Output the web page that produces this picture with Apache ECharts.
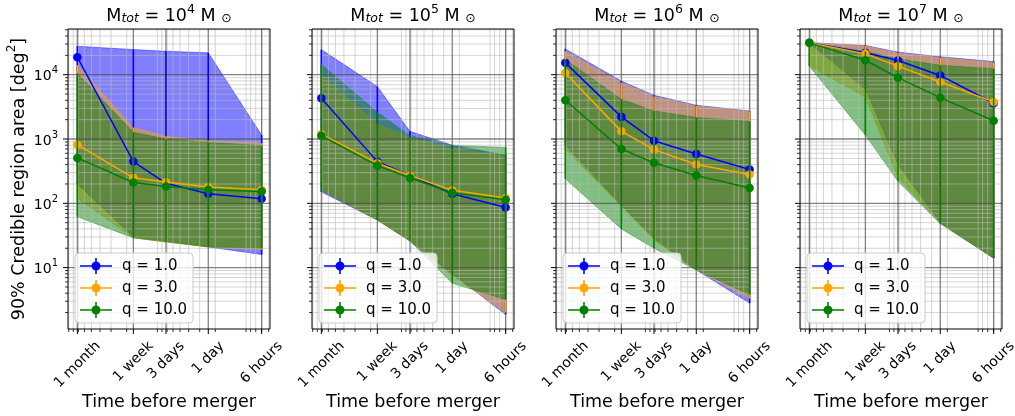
<!DOCTYPE html>
<html>
<head>
<meta charset="utf-8">
<script src="https://cdn.jsdelivr.net/npm/echarts@6/dist/echarts.min.js"></script>
<style>
  html, body { margin: 0; padding: 0; background: #fff; }
  #main { width: 1015px; height: 416px; }
</style>
</head>
<body>
<div id="main"></div>
<script>
// time before merger, in hours
var times = [720, 168, 72, 24, 6];
var timeLabels = ['1 month', '1 week', '3 days', '1 day', '6 hours'];
var massExp = [4, 5, 6, 7];
var qNames = ['q = 1.0', 'q = 3.0', 'q = 10.0'];
var yTicks = [10, 100, 1000, 10000];

// 90% area [deg2]; rows are q = 1, 3, 10
var med4 = [[18700, 446, 205, 141, 118], [817, 249, 214, 179, 163], [508, 211, 183, 163, 153]];
var lo4 = [[200, 30, 26, 21, 16], [120, 29, 25, 21, 19], [62, 29, 25, 21, 20]];
var hi4 = [[27700, 24600, 23200, 21900, 1150], [14100, 1510, 1100, 940, 860], [10500, 1270, 1000, 890, 790]];

var med5 = [[4300, 445, 271, 141, 86], [1190, 421, 271, 159, 121], [1125, 386, 247, 146, 114]];
var lo5 = [[150, 55, 26, 8, 1.86], [160, 55, 26, 7.5, 2.0], [160, 55, 26, 5.7, 3.2]];
var hi5 = [[24600, 6530, 1315, 800, 560], [10000, 1700, 1050, 700, 550], [14400, 2600, 1125, 800, 740]];

var med6 = [[15300, 2210, 942, 586, 335], [10600, 1315, 684, 401, 281], [4010, 700, 426, 271, 173]];
var lo6 = [[800, 93, 28.5, 9.2, 2.8], [700, 90, 27, 9.2, 3.3], [240, 40, 20, 9.2, 3.8]];
var hi6 = [[25200, 7960, 4790, 3350, 2730], [23200, 7510, 4570, 3270, 2680], [17200, 4150, 2735, 2160, 1875]];

var med7 = [[31300, 21900, 16600, 9750, 3600], [31300, 21100, 13600, 7690, 3780], [31300, 16800, 8990, 4400, 1920]];
var lo7 = [[31000, 6000, 400, 50, 14], [13600, 4500, 250, 50, 14], [13600, 1150, 220, 48, 14]];
var hi7 = [[31600, 28500, 22500, 19000, 16000], [31400, 28000, 22000, 18500, 15500], [31300, 23000, 17700, 14000, 12400]];

var panels = [
  { med: med4, lo: lo4, hi: hi4 },
  { med: med5, lo: lo5, hi: hi5 },
  { med: med6, lo: lo6, hi: hi6 },
  { med: med7, lo: lo7, hi: hi7 }
];

var colors = ['#0000ff', '#ffa500', '#008000'];
var fills = ['rgba(0,0,255,0.5)', 'rgba(255,165,0,0.5)', 'rgba(0,128,0,0.5)'];
var FONT = 'DejaVu Sans';
var TICK_FS = 14;

var xMin = 4.83, xMax = 918, yMin = 1.11, yMax = 51400;
var gridLeft = 68, gridStep = 244, gridTop = 29, gridW = 202, gridH = 302;

var yMinor = [], xMinor = [];
for (var e = 0; e <= 4; e++) {
  for (var m = 2; m <= 9; m++) {
    var v = m * Math.pow(10, e);
    if (v > yMin && v < yMax) yMinor.push(v);
    if (e <= 2 && v > xMin && v < xMax) xMinor.push(v);
  }
}

var mctx = document.createElement('canvas').getContext('2d');
mctx.font = TICK_FS + 'px "' + FONT + '"';

var iconPath = 'path://M0,7.2H32V8.8H0Z M15.2,0H16.8V16H15.2Z M11.5,8A4.5,4.5 0 1 1 20.5,8A4.5,4.5 0 1 1 11.5,8Z';

function bandRender(lo, hi, fill) {
  return function (params, api) {
    if (params.dataIndex !== 0) return null;
    var pts = [];
    for (var k = 0; k < times.length; k++) pts.push(api.coord([times[k], hi[k]]));
    for (var k2 = times.length - 1; k2 >= 0; k2--) pts.push(api.coord([times[k2], lo[k2]]));
    return { type: 'polygon', shape: { points: pts }, style: { fill: fill, stroke: fill, lineWidth: 0.8 } };
  };
}

function errRender(color) {
  return function (params, api) {
    var a = api.coord([api.value(0), api.value(1)]);
    var b = api.coord([api.value(0), api.value(2)]);
    return { type: 'line', shape: { x1: a[0], y1: a[1], x2: b[0], y2: b[1] }, style: { stroke: color, lineWidth: 1.5 } };
  };
}

function decorRender(params, api) {
  if (params.dataIndex !== 0) return null;
  var cs = params.coordSys;
  var x0 = cs.x, y0 = cs.y, x1 = cs.x + cs.width, y1 = cs.y + cs.height;
  var kids = [];
  function seg(ax, ay, bx, by, stroke, w) {
    kids.push({ type: 'line', shape: { x1: ax, y1: ay, x2: bx, y2: by }, style: { stroke: stroke, lineWidth: w } });
  }
  var minorC = 'rgba(185,185,185,0.6)', majorC = 'rgba(80,80,80,0.7)';
  yMinor.forEach(function (v) {
    var y = api.coord([times[0], v])[1];
    seg(x0, y, x1, y, minorC, 1);
    seg(x0 - 3, y, x0, y, '#000', 0.8);
  });
  xMinor.forEach(function (v) {
    var x = api.coord([v, yTicks[0]])[0];
    seg(x, y0, x, y1, minorC, 1);
    seg(x, y1, x, y1 + 3, '#000', 0.8);
  });
  yTicks.forEach(function (v) {
    var y = api.coord([times[0], v])[1];
    seg(x0, y, x1, y, majorC, 1.3);
    seg(x0 - 5, y, x0, y, '#000', 1);
  });
  times.forEach(function (t, k) {
    var x = api.coord([t, yTicks[0]])[0];
    seg(x, y0, x, y1, majorC, 1.3);
    seg(x, y1, x, y1 + 5, '#000', 1);
    var w = mctx.measureText(timeLabels[k]).width;
    kids.push({
      type: 'text', x: x, y: y1 + 10 + (w + TICK_FS) * 0.3536, rotation: Math.PI / 4,
      style: { text: timeLabels[k], fontSize: TICK_FS, fontFamily: FONT, fill: '#000', align: 'center', verticalAlign: 'middle' }
    });
  });
  kids.push({ type: 'rect', shape: { x: x0, y: y0, width: cs.width, height: cs.height }, style: { fill: null, stroke: '#000', lineWidth: 1 } });
  return { type: 'group', children: kids };
}

var grids = [], xAxes = [], yAxes = [], titles = [], legends = [], series = [];

panels.forEach(function (p, i) {
  var left = gridLeft + gridStep * i;
  grids.push({ left: left, top: gridTop, width: gridW, height: gridH, show: false });
  xAxes.push({
    type: 'log', gridIndex: i, inverse: true, min: xMin, max: xMax,
    axisLine: { show: false }, axisTick: { show: false }, splitLine: { show: false },
    axisLabel: { show: false }, minorTick: { show: false },
    name: 'Time before merger', nameLocation: 'middle', nameGap: 64,
    nameTextStyle: { fontSize: 17.5, fontFamily: FONT, color: '#000' }
  });
  yAxes.push({
    type: 'log', gridIndex: i, min: yMin, max: yMax,
    axisLine: { show: false }, axisTick: { show: false }, splitLine: { show: false },
    axisLabel: {
      show: i === 0, customValues: yTicks, margin: 10,
      formatter: function (v) { return '{b|10}{s|' + Math.round(Math.log10(v)) + '}'; },
      rich: {
        b: { fontSize: TICK_FS, fontFamily: FONT, color: '#000', lineHeight: 18, verticalAlign: 'bottom' },
        s: { fontSize: 10, fontFamily: FONT, color: '#000', lineHeight: 11, verticalAlign: 'top' }
      }
    },
    name: i === 0 ? '{n|90% Credible region area [deg}{s|2}{n|]}' : '',
    nameLocation: 'middle', nameGap: 40,
    nameTextStyle: {
      fontSize: 17.5, fontFamily: FONT, color: '#000',
      rich: {
        n: { fontSize: 17.5, fontFamily: FONT, color: '#000', lineHeight: 22, verticalAlign: 'bottom' },
        s: { fontSize: 12, fontFamily: FONT, color: '#000', lineHeight: 13, verticalAlign: 'top' }
      }
    }
  });
  titles.push({
    text: '{n|M}{sub|tot}{n| = 10}{sup|' + massExp[i] + '}{n| M }{od|\u2299}',
    left: left + gridW / 2, top: 3, textAlign: 'center', padding: 0,
    textStyle: {
      fontSize: 17.5, fontFamily: FONT, color: '#000', fontWeight: 'normal',
      rich: {
        n: { fontSize: 17.5, fontFamily: FONT, color: '#000', lineHeight: 22, verticalAlign: 'bottom' },
        sub: { fontSize: 12.5, fontStyle: 'italic', fontFamily: FONT, color: '#000', lineHeight: 9, verticalAlign: 'bottom' },
        sup: { fontSize: 12.5, fontFamily: FONT, color: '#000', lineHeight: 12, verticalAlign: 'top' },
        od: { fontSize: 12.5, fontFamily: FONT, color: '#000', lineHeight: 9, verticalAlign: 'bottom' }
      }
    }
  });
  legends.push({
    orient: 'vertical', left: left + 7, top: 253, z: 20,
    data: qNames, icon: iconPath, itemWidth: 32, itemHeight: 16, itemGap: 6,
    padding: [5, 6, 5, 5], selectedMode: false,
    backgroundColor: 'rgba(255,255,255,0.8)', borderColor: '#cccccc', borderWidth: 1, borderRadius: 4,
    itemStyle: { borderWidth: 0 },
    formatter: function (name) { return '{t|' + name + '}'; },
    textStyle: {
      fontSize: 15, fontFamily: FONT, color: '#000',
      rich: { t: { fontSize: 15, fontFamily: FONT, color: '#000', padding: [0, 0, 0, 5] } }
    }
  });

  p.med.forEach(function (row, j) {
    series.push({
      type: 'custom', name: 'band' + i + j, xAxisIndex: i, yAxisIndex: i, z: 1 + j * 0.1,
      renderItem: bandRender(p.lo[j], p.hi[j], fills[j]), silent: true,
      data: times.map(function (t, k) { return [t, p.lo[j][k], p.hi[j][k]]; }),
      encode: { x: 0, y: [1, 2] }
    });
  });
  series.push({
    type: 'custom', name: 'decor' + i, xAxisIndex: i, yAxisIndex: i, z: 2, clip: false, silent: true,
    renderItem: decorRender, data: [[times[0], yTicks[0]]], encode: { x: 0, y: 1 }
  });
  p.med.forEach(function (row, j) {
    series.push({
      type: 'custom', name: 'err' + i + j, xAxisIndex: i, yAxisIndex: i, z: 3 + j * 2, silent: true,
      renderItem: errRender(colors[j]),
      data: times.map(function (t, k) { return [t, p.lo[j][k], p.hi[j][k]]; }),
      encode: { x: 0, y: [1, 2] }
    });
    series.push({
      type: 'line', name: qNames[j], xAxisIndex: i, yAxisIndex: i, z: 4 + j * 2,
      data: times.map(function (t, k) { return [t, row[k]]; }),
      symbol: 'circle', symbolSize: 8.5, showSymbol: true,
      lineStyle: { color: colors[j], width: 1.5 },
      itemStyle: { color: colors[j], borderWidth: 0 },
      emphasis: { disabled: true }
    });
  });
});

var chart = echarts.init(document.getElementById('main'));
chart.setOption({
  animation: false,
  backgroundColor: '#fff',
  title: titles,
  legend: legends,
  grid: grids,
  xAxis: xAxes,
  yAxis: yAxes,
  series: series
});
</script>
</body>
</html>
